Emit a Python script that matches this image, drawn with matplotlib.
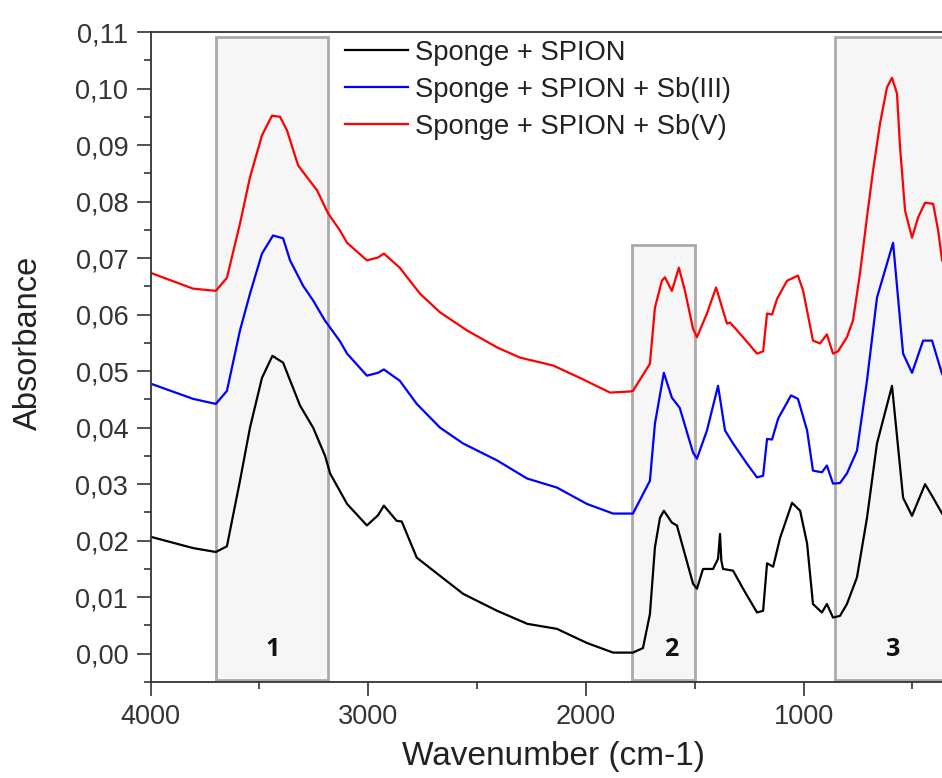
import numpy as np
import matplotlib
matplotlib.use('Agg')
import matplotlib.pyplot as plt
from matplotlib.ticker import MultipleLocator, FuncFormatter
from matplotlib.patches import Rectangle

plt.rcParams['font.family'] = ['Liberation Sans', 'DejaVu Sans']

# FTIR spectra, values
wn_black = [4000, 3805, 3700, 3649, 3589, 3543, 3488, 3440, 3391, 3313, 3253, 3198,
            3175, 3097, 3006, 2955, 2928, 2869, 2846, 2777, 2684, 2564, 2408, 2270,
            2133, 1995, 1875, 1797, 1784, 1738, 1706, 1683, 1660, 1642, 1605, 1582,
            1554, 1508, 1490, 1462, 1416, 1393, 1384, 1378, 1370, 1324, 1278, 1214,
            1186, 1168, 1140, 1108, 1053, 1016, 984, 957, 916, 893, 865, 833, 801,
            755, 709, 663, 594, 543, 502, 442, 405, 364]
abs_black = [0.0207, 0.0187, 0.0180, 0.0190, 0.0306, 0.0400, 0.0488, 0.0527, 0.0515,
             0.0439, 0.0400, 0.0350, 0.0319, 0.0265, 0.0227, 0.0245, 0.0262, 0.0235,
             0.0234, 0.0170, 0.0142, 0.0106, 0.0076, 0.0053, 0.0044, 0.0019, 0.0002,
             0.0002, 0.0002, 0.0010, 0.0070, 0.0188, 0.0240, 0.0253, 0.0232, 0.0227,
             0.0188, 0.0124, 0.0115, 0.0150, 0.0150, 0.0168, 0.0212, 0.0165, 0.0150,
             0.0147, 0.0115, 0.0073, 0.0076, 0.0160, 0.0154, 0.0205, 0.0267, 0.0253,
             0.0195, 0.0088, 0.0073, 0.0088, 0.0064, 0.0067, 0.0088, 0.0135, 0.0240,
             0.0372, 0.0474, 0.0276, 0.0244, 0.0300, 0.0276, 0.0248]

wn_blue = [4000, 3805, 3700, 3649, 3589, 3543, 3488, 3437, 3391, 3359, 3299, 3253,
           3198, 3175, 3130, 3097, 3006, 2955, 2928, 2855, 2777, 2670, 2564, 2408,
           2270, 2133, 1995, 1875, 1797, 1784, 1706, 1683, 1642, 1605, 1569, 1508,
           1490, 1444, 1393, 1361, 1324, 1260, 1214, 1186, 1168, 1145, 1117, 1058,
           1026, 984, 957, 916, 893, 865, 833, 801, 755, 709, 663, 589, 543, 502,
           451, 410, 364]
abs_blue = [0.0478, 0.0451, 0.0442, 0.0465, 0.0572, 0.0637, 0.0708, 0.0740, 0.0735,
            0.0696, 0.0651, 0.0625, 0.0589, 0.0577, 0.0553, 0.0531, 0.0492, 0.0497,
            0.0503, 0.0483, 0.0442, 0.0400, 0.0372, 0.0342, 0.0310, 0.0294, 0.0265,
            0.0248, 0.0248, 0.0248, 0.0306, 0.0407, 0.0497, 0.0453, 0.0435, 0.0356,
            0.0345, 0.0395, 0.0474, 0.0395, 0.0372, 0.0336, 0.0312, 0.0315, 0.0380,
            0.0379, 0.0416, 0.0457, 0.0451, 0.0395, 0.0324, 0.0321, 0.0333, 0.0301,
            0.0302, 0.0319, 0.0359, 0.0483, 0.0630, 0.0727, 0.0531, 0.0497, 0.0554,
            0.0554, 0.0495]

wn_red = [4000, 3805, 3700, 3649, 3589, 3543, 3488, 3442, 3405, 3373, 3322, 3281,
          3235, 3198, 3184, 3130, 3097, 3006, 2955, 2928, 2855, 2762, 2670, 2546,
          2408, 2303, 2151, 2027, 1889, 1797, 1784, 1706, 1683, 1651, 1637, 1605,
          1573, 1545, 1508, 1490, 1444, 1402, 1352, 1338, 1278, 1214, 1186, 1168,
          1145, 1122, 1076, 1026, 1002, 957, 925, 893, 865, 842, 801, 773, 741, 709,
          681, 649, 617, 594, 571, 557, 534, 502, 474, 442, 405, 382, 364]
abs_red = [0.0674, 0.0646, 0.0642, 0.0665, 0.0761, 0.0843, 0.0917, 0.0952, 0.0950,
           0.0926, 0.0864, 0.0843, 0.0820, 0.0790, 0.0779, 0.0749, 0.0727, 0.0696,
           0.0701, 0.0708, 0.0683, 0.0637, 0.0604, 0.0572, 0.0542, 0.0524, 0.0510,
           0.0488, 0.0462, 0.0464, 0.0465, 0.0513, 0.0612, 0.0660, 0.0666, 0.0642,
           0.0683, 0.0642, 0.0575, 0.0560, 0.0602, 0.0648, 0.0584, 0.0586, 0.0560,
           0.0531, 0.0535, 0.0602, 0.0600, 0.0628, 0.0660, 0.0669, 0.0642, 0.0554,
           0.0549, 0.0565, 0.0531, 0.0535, 0.0560, 0.0590, 0.0673, 0.0772, 0.0855,
           0.0938, 0.1002, 0.1019, 0.0991, 0.0896, 0.0784, 0.0736, 0.0772, 0.0798,
           0.0796, 0.0749, 0.0696]

labels = ['Sponge + SPION', 'Sponge + SPION + Sb(III)', 'Sponge + SPION + Sb(V)']
colors = ['black', '#0000ff', '#ff0000']

# highlighted regions: (high wn, low wn, top absorbance, label)
regions = [(3700, 3185, 0.1092, '1'), (1790, 1500, 0.0724, '2'), (855, 300, 0.1092, '3')]
region_label_wn = [3440, 1610, 590]

fig = plt.figure(figsize=(9.42, 7.78), dpi=100)
ax = fig.add_axes([150.5 / 942, 1 - 682 / 778, (956 - 150.5) / 942, 650 / 778])

ax.set_xlim(4000, 300)
ax.set_ylim(-0.005, 0.11)

for (x0, x1, top, lab), xl in zip(regions, region_label_wn):
    ax.add_patch(Rectangle((x1, -0.0047), x0 - x1, top + 0.0047,
                           facecolor='#f6f6f6', edgecolor='#aaaaaa', lw=2, zorder=1))
    ax.text(xl, 0.0008, lab, ha='center', va='center', fontsize=18,
            fontweight='bold', family=['Open Sans', 'DejaVu Sans'], color='#111111', zorder=3)

ax.plot(wn_black, abs_black, color=colors[0], lw=1.6, label=labels[0], zorder=2)
ax.plot(wn_blue, abs_blue, color=colors[1], lw=1.6, label=labels[1], zorder=2)
ax.plot(wn_red, abs_red, color=colors[2], lw=1.6, label=labels[2], zorder=2)

ax.spines['right'].set_visible(False)
for s in ['top', 'left', 'bottom']:
    ax.spines[s].set_color('#333333')
    ax.spines[s].set_linewidth(1.3)

ax.xaxis.set_major_locator(MultipleLocator(1000))
ax.xaxis.set_minor_locator(MultipleLocator(500))
ax.yaxis.set_major_locator(MultipleLocator(0.01))
ax.yaxis.set_minor_locator(MultipleLocator(0.005))
ax.yaxis.set_major_formatter(FuncFormatter(lambda v, p: f'{v:.2f}'.replace('.', ',').replace('-0,00', '0,00')))
ax.tick_params(which='major', direction='out', length=10, width=1.2, color='#333333',
               labelsize=19.5, labelcolor='#333333', pad=6)
ax.tick_params(which='minor', direction='out', length=5, width=1.2, color='#333333')

fig.text(28 / 942, 1 - 343 / 778, 'Absorbance', rotation=90, ha='center', va='center',
         fontsize=23.5, color='#222222')
fig.text(553 / 942, 1 - 757 / 778, 'Wavenumber (cm-1)', ha='center', va='center',
         fontsize=24, color='#222222')

leg = ax.legend(loc='upper left', bbox_to_anchor=(345 / 942, 1 - 40 / 778),
                bbox_transform=fig.transFigure, frameon=False, fontsize=19.7,
                handlelength=2.3, handletextpad=0.25, labelspacing=0.4,
                borderpad=0, borderaxespad=0)
for t in leg.get_texts():
    t.set_color('#222222')

fig.savefig('out.png', dpi=100)
